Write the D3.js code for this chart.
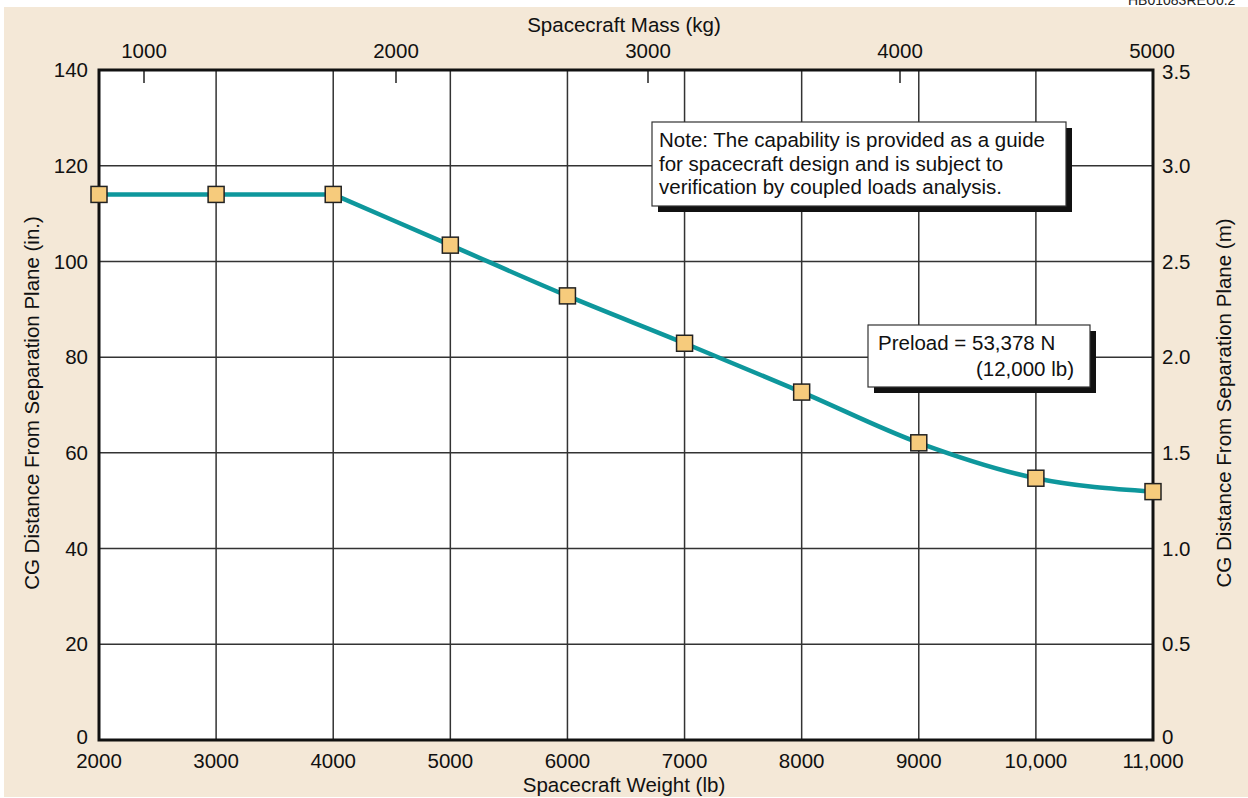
<!DOCTYPE html>
<html><head><meta charset="utf-8">
<script src="https://cdn.jsdelivr.net/npm/d3@7"></script>
<style>body{margin:0;background:#fff}svg{display:block;font-family:"Liberation Sans",Arial,Helvetica,sans-serif}</style>
</head><body>
<svg id="c" width="1248" height="798"></svg>
<script>
const weights = [2000,3000,4000,5000,6000,7000,8000,9000,10000,11000];
const cgInches = [114,114,114,103.4,92.8,82.9,72.7,62.1,54.7,51.9];
const weightTicks = [2000,3000,4000,5000,6000,7000,8000,9000,10000,11000];
const weightTickLabels = ["2000","3000","4000","5000","6000","7000","8000","9000","10,000","11,000"];
const inchTicks = [0,20,40,60,80,100,120,140];
const meterTicks = [0,0.5,1.0,1.5,2.0,2.5,3.0,3.5];
const massTicks = [1000,2000,3000,4000,5000];
const noteLines = ["Note: The capability is provided as a guide","for spacecraft design and is subject to","verification by coupled loads analysis."];
const preloadLines = ["Preload = 53,378 N","(12,000 lb)"];

const svg = d3.select("#c");
const L=99,R=1153,T=70,B=740;
const x = d3.scaleLinear().domain([2000,11000]).range([L,R]);
const y = d3.scaleLinear().domain([0,140]).range([B,T]);
const yM = d3.scaleLinear().domain([0,3.5]).range([B,T]);
const xKg = d3.scaleLinear().domain([1000,5000]).range([144,1152]);
const fs = 20.5;

svg.append("rect").attr("x",4).attr("y",7).attr("width",1244).attr("height",790).attr("fill","#f4e8d7");
svg.append("text").attr("x",1128).attr("y",5).attr("font-size",14).attr("fill","#222").text("HB01083REU0.2");

svg.append("rect").attr("x",L).attr("y",T).attr("width",R-L).attr("height",B-T).attr("fill","#fff");

// grid
const g = svg.append("g").attr("stroke","#333").attr("stroke-width",1.5);
g.selectAll("line.v").data(weightTicks.slice(1,-1)).join("line")
 .attr("x1",d=>x(d)).attr("x2",d=>x(d)).attr("y1",T).attr("y2",B);
g.selectAll("line.h").data(inchTicks.slice(1,-1)).join("line")
 .attr("y1",d=>y(d)).attr("y2",d=>y(d)).attr("x1",L).attr("x2",R);

// top mass ticks (inward)
svg.append("g").attr("stroke","#222").attr("stroke-width",1.5)
 .selectAll("line").data(massTicks.slice(0,-1)).join("line")
 .attr("x1",d=>xKg(d)).attr("x2",d=>xKg(d)).attr("y1",T).attr("y2",T+13);

// frame
svg.append("rect").attr("x",L).attr("y",T).attr("width",R-L).attr("height",B-T)
 .attr("fill","none").attr("stroke","#111").attr("stroke-width",3);

// tick labels
const lab = svg.append("g").attr("font-size",fs).attr("fill","#111");
lab.selectAll("text.b").data(weightTicks).join("text")
 .attr("x",d=>x(d)).attr("y",768).attr("text-anchor","middle")
 .text((d,i)=>weightTickLabels[i]);
lab.selectAll("text.l").data(inchTicks).join("text")
 .attr("x",88).attr("y",d=>d===0?y(d)-3:y(d)).attr("dy","0.35em").attr("text-anchor","end").text(d=>d);
lab.selectAll("text.r").data(meterTicks).join("text")
 .attr("x",1162).attr("y",d=>d===0?yM(d)-3:(d===3.5?yM(d)+2:yM(d))).attr("dy","0.35em").attr("text-anchor","start")
 .text(d=>d===0?"0":d3.format(".1f")(d));
lab.selectAll("text.t").data(massTicks).join("text")
 .attr("x",d=>xKg(d)).attr("y",58).attr("text-anchor","middle").text(d=>d);

// axis titles
lab.append("text").attr("x",624).attr("y",792).attr("text-anchor","middle").text("Spacecraft Weight (lb)");
lab.append("text").attr("x",624).attr("y",32).attr("text-anchor","middle").text("Spacecraft Mass (kg)");
lab.append("text").attr("transform","translate(39,403) rotate(-90)").attr("text-anchor","middle").text("CG Distance From Separation Plane (in.)");
lab.append("text").attr("transform","translate(1231,403) rotate(-90)").attr("text-anchor","middle").text("CG Distance From Separation Plane (m)");

// line: flat part straight, then smooth curve
const pts = weights.map((w,i)=>[w,cgInches[i]]);
const lineLin = d3.line().x(d=>x(d[0])).y(d=>y(d[1]));
const lineSm = d3.line().x(d=>x(d[0])).y(d=>y(d[1])).curve(d3.curveMonotoneX);
const lineStyle = p=>p.attr("fill","none").attr("stroke","#0e979c").attr("stroke-width",4.5).attr("stroke-linejoin","round");
svg.append("path").datum(pts.slice(0,3)).attr("d",lineLin).call(lineStyle);
svg.append("path").datum(pts.slice(2)).attr("d",lineSm).call(lineStyle);

svg.append("g").selectAll("rect").data(pts).join("rect")
 .attr("x",d=>x(d[0])-8).attr("y",d=>y(d[1])-8).attr("width",16).attr("height",16)
 .attr("fill","#f6cb7c").attr("stroke","#222").attr("stroke-width",1.5);

// boxes
function box(x0,y0,w,h){
  svg.append("rect").attr("x",x0+6).attr("y",y0+6).attr("width",w).attr("height",h).attr("fill","#111");
  svg.append("rect").attr("x",x0).attr("y",y0).attr("width",w).attr("height",h).attr("fill","#fff").attr("stroke","#333").attr("stroke-width",1.2);
}
box(652,122,414,84);
box(868,325,222,62);
const nt = svg.append("g").attr("font-size",fs).attr("fill","#111");
noteLines.forEach((t,i)=>nt.append("text").attr("x",659).attr("y",147+i*23.5).text(t));
nt.append("text").attr("x",878).attr("y",350).text(preloadLines[0]);
nt.append("text").attr("x",1074).attr("y",376).attr("text-anchor","end").text(preloadLines[1]);
</script>
</body></html>
